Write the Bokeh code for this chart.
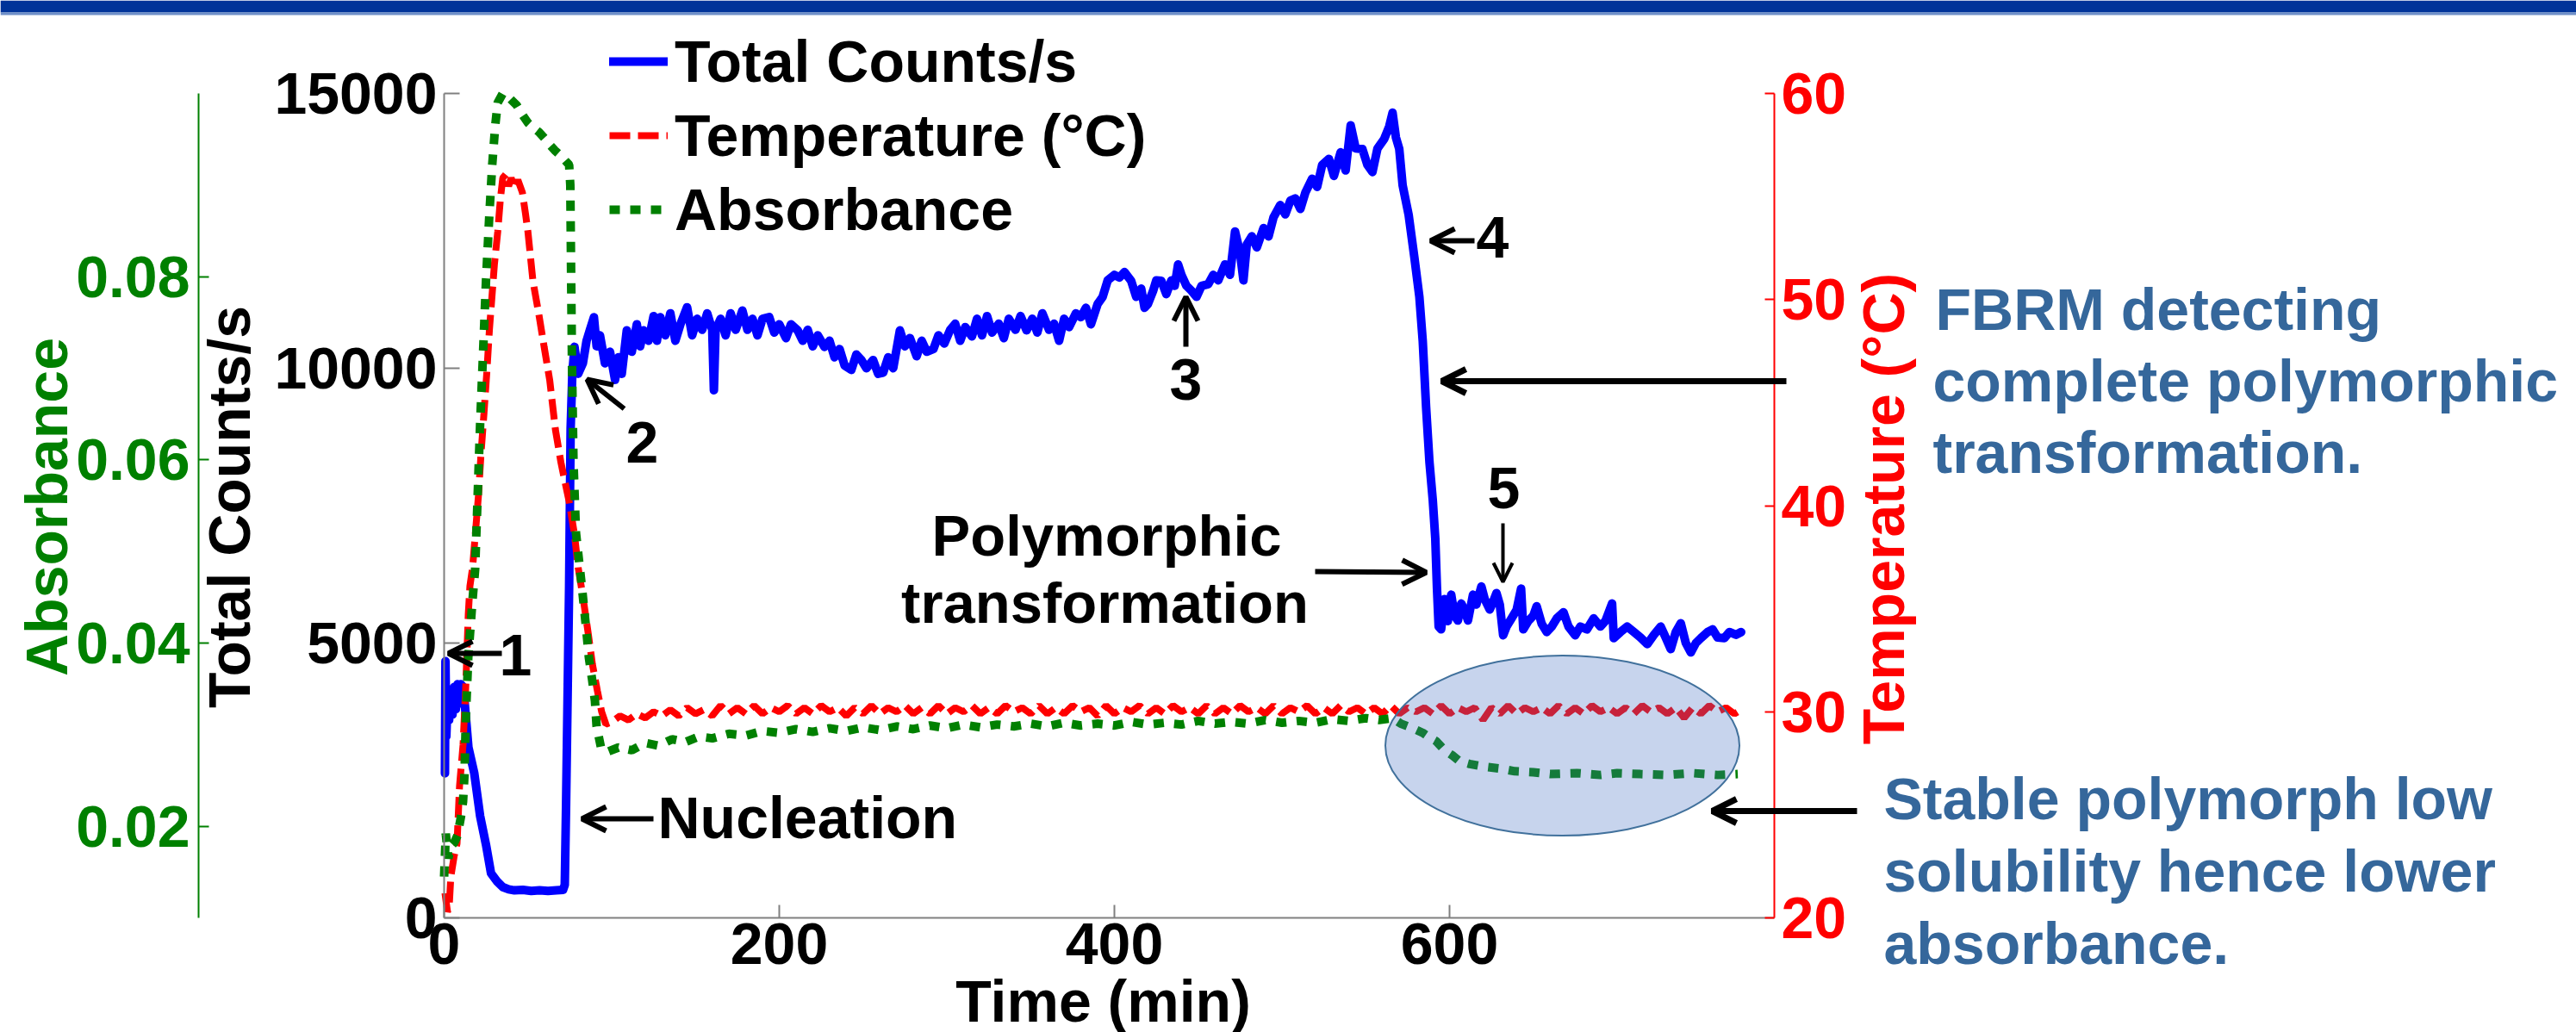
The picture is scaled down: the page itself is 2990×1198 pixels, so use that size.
import math
from bokeh.plotting import figure
from bokeh.models import (Range1d, LinearAxis, FixedTicker, Label, Arrow, OpenHead,
                          Legend, LegendItem, BoxAnnotation)
from bokeh.embed import file_html
from bokeh.resources import INLINE

# ---------------- data ----------------
TIME_TICKS = [0, 200, 400, 600]
COUNT_TICKS = [0, 5000, 10000, 15000]
TEMP_TICKS = [20, 30, 40, 50, 60]
ABS_TICKS = [0.02, 0.04, 0.06, 0.08]

# (time [min], total counts/s)
COUNTS = [
    (0.5, 2630), (0.8, 4670), (1.3, 3300), (2, 3900), (3, 3600), (4, 4150), (5, 3700),
    (6, 4200), (7, 3800), (8, 4250), (9, 3900), (10, 4250), (11.5, 4200), (14.5, 3100),
    (18, 2630), (21.5, 1850), (25, 1330), (28, 810), (31.7, 660), (35, 560), (38.5, 520),
    (42, 500), (47, 510), (52, 490), (57, 500), (62, 490), (67, 500), (71, 510), (72, 600),
    (72.8, 2100), (74.6, 6030), (75.5, 8900), (76.5, 9900), (77.8, 10390), (80, 9900),
    (82.8, 10090), (85, 10500), (87, 10700), (89.4, 10930), (91, 10400), (93, 10600),
    (96, 10090), (99, 10300), (102, 9790), (104, 10200), (106, 9900), (109, 10690),
    (112, 10300), (115, 10800), (117, 10400), (119, 10690), (122, 10500), (125, 10950),
    (127, 10500), (129, 10930), (132, 10600), (135, 11000), (138, 10500), (141, 10800),
    (145, 11110), (148, 10600), (151, 10900), (154, 10700), (157, 11000), (160, 10700),
    (161, 9600), (162, 10700), (165, 10900), (168, 10600), (171, 11000), (174, 10700),
    (178, 11050), (181, 10700), (184, 10900), (187, 10600), (190, 10900), (194, 10930),
    (197, 10650), (200, 10800), (204, 10550), (207, 10800), (211, 10690), (214, 10500),
    (217, 10700), (220, 10400), (223, 10600), (227, 10390), (230, 10500), (233, 10200),
    (236, 10350), (239, 10050), (243, 9970), (246, 10250), (249, 10150), (252, 10000),
    (256, 10150), (259, 9900), (262, 9920), (265, 10200), (268, 10000), (272, 10690),
    (275, 10400), (278, 10550), (282, 10220), (285, 10500), (288, 10300), (292, 10350),
    (295, 10600), (298.5, 10450), (302, 10700), (305, 10810), (308, 10500), (311, 10750),
    (315, 10580), (318, 10900), (321, 10600), (324, 10950), (327, 10650), (331, 10810),
    (334, 10550), (337, 10900), (341, 10700), (344, 10950), (347.6, 10690), (351, 10900),
    (354, 10650), (357, 11000), (361, 10700), (364, 10810), (367, 10500), (370, 10900),
    (373, 10750), (377, 11000), (380, 10930), (383, 11100), (386, 10800), (390, 11170),
    (393, 11300), (396, 11600), (400, 11700), (403, 11650), (406, 11750), (410, 11590),
    (413, 11300), (416, 11450), (418, 11100), (420, 11170), (423, 11400), (425, 11600),
    (428, 11590), (431, 11350), (434, 11600), (436, 11500), (438, 11890), (440, 11700),
    (443, 11500), (446, 11410), (449, 11300), (452, 11500), (456, 11530), (459, 11700),
    (462, 11600), (466, 11890), (469, 11700), (472, 12490), (475, 12100), (477, 11600),
    (479, 12250), (482, 12400), (485, 12200), (489, 12550), (492, 12400), (495, 12750),
    (499, 12970), (502, 12800), (505, 13050), (508, 13090), (511, 12900), (514, 13200),
    (518, 13450), (521, 13300), (524, 13700), (528, 13810), (531, 13500), (535, 13930),
    (538, 13600), (541, 14420), (544, 14000), (548, 13990), (551, 13700), (554, 13570),
    (557, 14000), (561, 14170), (564, 14400), (566, 14650), (568, 14200), (570, 13990),
    (572, 13330), (575.6, 12790), (579, 12020), (582, 11300), (584, 10500), (586, 9300),
    (588, 8300), (590, 7600), (591.5, 6900), (592.5, 6000), (593.5, 5300), (595, 5250),
    (597, 5800), (599, 5400), (601, 5880), (603, 5500), (605, 5410), (607, 5720),
    (609, 5600), (611, 5410), (614, 5880), (616, 5700), (619, 6030), (621, 5800),
    (624, 5610), (626, 5750), (628, 5910), (630, 5700), (632, 5140), (634, 5300),
    (637, 5450), (640, 5600), (642.7, 5990), (644, 5250), (647, 5400), (650, 5500),
    (652, 5670), (655, 5350), (658, 5200), (661, 5300), (664, 5450), (668, 5560),
    (671, 5300), (675, 5140), (678, 5300), (682, 5250), (686, 5450), (690, 5300),
    (693, 5400), (697, 5720), (698, 5090), (702, 5200), (706, 5300), (710, 5200),
    (714, 5100), (718, 4980), (722, 5150), (726, 5300), (729, 5100), (732, 4890),
    (735, 5200), (738, 5360), (741, 5000), (744, 4830), (747, 5000), (750, 5090),
    (754, 5200), (757, 5250), (760, 5100), (764, 5090), (767, 5200), (771, 5150),
    (774, 5200),
]

# (time [min], temperature [degC])
TEMPERATURE = [
    (0.5, 21.2), (2, 20.3), (3, 20.5), (4, 22.0), (6, 23.0), (7.7, 23.6), (9.2, 26.4),
    (11.3, 28.4), (12.9, 31.2), (14.4, 34.7), (15.4, 36.1), (17, 37.0), (18.5, 38.5),
    (20.5, 40.5), (22, 42.5), (23.8, 44.5), (25.5, 46.5), (27, 48.5), (30, 51.7),
    (32, 53.3), (33.6, 54.9), (35, 55.9), (37, 56.1), (38.5, 55.5), (40, 55.9),
    (42, 55.4), (44, 55.8), (46.7, 55.2), (48.5, 54.2), (50, 53.3), (53, 50.9),
    (56.5, 49.3), (59.7, 47.7), (63, 46.1), (66.4, 43.7), (69.7, 42.1), (72, 41.2),
    (74.6, 40.2), (77.8, 38.6), (80, 37.0), (82.8, 35.6), (86, 33.8), (88.5, 32.3),
    (91.5, 31.0), (94, 30.0), (96.5, 29.4),
    (100, 29.5), (105, 29.8), (110, 29.6), (115, 29.9), (120, 29.7), (125, 30.0),
    (130, 29.8), (135, 30.1), (140, 29.8), (145, 30.2), (150, 29.9), (155, 30.1),
    (160, 29.8), (165, 30.3), (170, 29.9), (175, 30.2), (180, 29.9), (185, 30.3),
    (190, 29.9), (195, 30.2), (200, 30.0), (205, 30.3), (210, 29.9), (215, 30.2),
    (220, 29.9), (225, 30.3), (230, 30.0), (235, 30.2), (240, 29.8), (245, 30.2),
    (250, 29.9), (255, 30.3), (260, 29.9), (265, 30.2), (270, 30.0), (275, 30.3),
    (280, 29.9), (285, 30.2), (290, 29.9), (295, 30.3), (300, 29.9), (305, 30.2),
    (310, 30.0), (315, 30.3), (320, 29.9), (325, 30.2), (330, 29.9), (335, 30.3),
    (340, 30.0), (345, 30.2), (350, 29.9), (355, 30.3), (360, 29.9), (365, 30.2),
    (370, 29.9), (375, 30.3), (380, 30.0), (385, 30.2), (390, 29.8), (395, 30.3),
    (400, 29.9), (405, 30.2), (410, 30.0), (415, 30.3), (420, 29.9), (425, 30.2),
    (430, 29.9), (435, 30.3), (440, 30.0), (445, 30.2), (450, 29.9), (455, 30.3),
    (460, 29.9), (465, 30.2), (470, 29.9), (475, 30.3), (480, 30.0), (485, 30.2),
    (490, 29.9), (495, 30.3), (500, 29.9), (505, 30.2), (510, 30.0), (515, 30.3),
    (520, 29.9), (525, 30.2), (530, 29.9), (535, 30.3), (540, 30.0), (545, 30.2),
    (550, 29.9), (555, 30.2), (560, 29.9), (565, 30.3), (570, 29.9), (575, 30.2),
    (580, 30.0), (585, 30.2), (590, 29.9), (595, 30.3), (600, 29.9), (605, 30.2),
    (610, 30.0), (615, 30.2), (620, 29.6), (625, 30.2), (630, 29.9), (635, 30.3),
    (640, 29.9), (645, 30.2), (650, 30.0), (655, 30.2), (660, 29.9), (665, 30.3),
    (670, 29.9), (675, 30.2), (680, 29.9), (685, 30.3), (690, 30.0), (695, 30.2),
    (700, 29.9), (705, 30.2), (710, 29.9), (715, 30.3), (720, 30.0), (725, 30.2),
    (730, 29.9), (735, 30.2), (740, 29.7), (745, 30.2), (750, 29.9), (755, 30.3),
    (760, 30.0), (765, 30.2), (770, 29.9), (774, 30.1),
]

# (time [min], absorbance)
ABSORBANCE = [
    (0, 0.0145), (1, 0.0192), (2.5, 0.0165), (4, 0.0178), (6, 0.0182), (8, 0.0190),
    (10, 0.0210), (11.3, 0.0227), (12.2, 0.0258), (13, 0.0321), (14.4, 0.0384),
    (16.9, 0.0446), (18.5, 0.0480), (20, 0.0560), (21.5, 0.0640), (23, 0.0706),
    (25, 0.0796), (27, 0.0868), (28.7, 0.0922), (30.5, 0.0965), (32, 0.0990),
    (35, 0.1000), (39, 0.0995), (43.4, 0.0987), (47, 0.0976), (50, 0.0968),
    (53, 0.0963), (56.5, 0.0958), (60, 0.0951), (63, 0.0944), (66, 0.0938),
    (69.7, 0.0932), (74.6, 0.0922), (75.3, 0.0900), (75.8, 0.0800), (76.3, 0.0706),
    (77.2, 0.0598), (78.7, 0.0520), (82.3, 0.0460), (84.8, 0.0415), (86.4, 0.0384),
    (88.4, 0.0359), (90, 0.0337), (91, 0.0309), (93.6, 0.0286), (97, 0.0281),
    (104, 0.0286), (112, 0.0283), (120, 0.0291), (128, 0.0288), (136, 0.0295),
    (144, 0.0292), (152, 0.0298), (160, 0.0296), (170, 0.0301), (180, 0.0299),
    (190, 0.0304), (200, 0.0302), (210, 0.0306), (220, 0.0303), (230, 0.0307),
    (240, 0.0304), (250, 0.0308), (260, 0.0305), (270, 0.0309), (280, 0.0306),
    (290, 0.0310), (300, 0.0307), (310, 0.0311), (320, 0.0308), (330, 0.0311),
    (340, 0.0309), (350, 0.0312), (360, 0.0309), (370, 0.0313), (380, 0.0310),
    (390, 0.0312), (400, 0.0310), (410, 0.0314), (420, 0.0311), (430, 0.0313),
    (440, 0.0311), (450, 0.0315), (460, 0.0312), (470, 0.0314), (480, 0.0312),
    (490, 0.0316), (500, 0.0313), (510, 0.0315), (520, 0.0313), (530, 0.0317),
    (540, 0.0315), (550, 0.0318), (558, 0.0316), (566, 0.0318), (571, 0.0312),
    (578, 0.0307), (584, 0.0302), (588, 0.0297), (592, 0.0293), (597, 0.0283),
    (602, 0.0277), (606, 0.0271), (612, 0.0268), (621, 0.0265), (630, 0.0263),
    (639, 0.0260), (650, 0.0259), (660, 0.0257), (676, 0.0258), (690, 0.0256),
    (700, 0.0258), (714, 0.0257), (730, 0.0256), (745, 0.0258), (760, 0.0256),
    (772, 0.0257),
]

# ---------------- layout (pixel geometry of the page) ----------------
W, H = 2990, 1198
LEFT_PX, RIGHT_PX = 515, 2059      # time = 0 and the temperature axis
TOP_PX, BOTTOM_PX = 108, 1065      # top / bottom of the y axes
PX_PER_MIN = 389 / 200
BASELINE_FIX = 27                  # correction for the alphabetic baseline of labels
FONT = "Liberation Sans"
BLUE, RED, GREEN = "#0000FF", "#FF0000", "#008000"
NOTE_BLUE = "#35679B"

SPAN = BOTTOM_PX - TOP_PX


def X(px):
    return (px - LEFT_PX) / PX_PER_MIN


def Y(py):
    return (BOTTOM_PX - py) * 15000 / SPAN


def TY(py):
    return 20 + (BOTTOM_PX - py) * 40 / SPAN


def AY(py):
    return 0.01 + (BOTTOM_PX - py) * 0.09 / SPAN


p = figure(width=W, height=H, x_range=Range1d(X(0), X(W)), y_range=Range1d(Y(H), Y(0)),
           output_backend="svg", toolbar_location=None,
           x_axis_location=None, y_axis_location=None, min_border=0,
           outline_line_color=None, background_fill_color="white",
           border_fill_color="white")
p.xgrid.visible = False
p.ygrid.visible = False
p.extra_y_ranges = {"temp": Range1d(TY(H), TY(0)), "abs": Range1d(AY(H), AY(0))}

# header bar of the slide
p.add_layout(BoxAnnotation(bottom=Y(14), fill_color="#003399", fill_alpha=1.0,
                           line_color=None, level="underlay"))
p.add_layout(BoxAnnotation(bottom=Y(17), top=Y(14), fill_color="#6f8fc8", fill_alpha=1.0,
                           line_color=None, level="underlay"))


def style_axis(ax, label_color, line_color, tick_in, standoff):
    ax.major_label_text_font = FONT
    ax.major_label_text_font_style = "bold"
    ax.major_label_text_font_size = "68px"
    ax.major_label_text_color = label_color
    ax.axis_line_color = line_color
    ax.axis_line_width = 2
    ax.major_tick_line_color = line_color
    ax.major_tick_line_width = 2
    ax.minor_tick_line_color = None
    ax.major_tick_out = 0
    ax.major_tick_in = tick_in
    ax.major_label_standoff = standoff


counts_axis = LinearAxis(fixed_location=0, bounds=(0, 15000),
                         ticker=FixedTicker(ticks=COUNT_TICKS))
style_axis(counts_axis, "black", "#808080", 18, 8)
p.add_layout(counts_axis, "left")

abs_axis = LinearAxis(y_range_name="abs", fixed_location=X(230), bounds=(0.01, 0.1),
                      ticker=FixedTicker(ticks=ABS_TICKS))
style_axis(abs_axis, GREEN, GREEN, 12, 10)
p.add_layout(abs_axis, "left")

temp_axis = LinearAxis(y_range_name="temp", fixed_location=X(RIGHT_PX), bounds=(20, 60),
                       ticker=FixedTicker(ticks=TEMP_TICKS))
style_axis(temp_axis, RED, RED, 11, 8)
p.add_layout(temp_axis, "right")

x_axis = LinearAxis(fixed_location=0, bounds=(0, X(RIGHT_PX)),
                    ticker=FixedTicker(ticks=TIME_TICKS))
style_axis(x_axis, "black", "#808080", 15, 6)
p.add_layout(x_axis, "below")

# ---------------- series ----------------
ct, cv = zip(*COUNTS)
tt, tv = zip(*TEMPERATURE)
at, av = zip(*ABSORBANCE)

r_counts = p.line(list(ct), list(cv), line_color=BLUE, line_width=10,
                  line_join="round", line_cap="round")
r_temp = p.line(list(tt), list(tv), y_range_name="temp", line_color=RED, line_width=8,
                line_dash="24 9")
r_abs = p.line(list(at), list(av), y_range_name="abs", line_color=GREEN, line_width=10,
               line_dash="12 12")

# highlighted region (semi-transparent ellipse)
p.ellipse(x=[X(1813)], y=[Y(865)], width=411, height=209, width_units="screen",
          height_units="screen", fill_color="#4472C4", fill_alpha=0.3,
          line_color="#41719C", line_width=2)

legend = Legend(items=[LegendItem(label="Total Counts/s", renderers=[r_counts]),
                       LegendItem(label="Temperature (\u00b0C)", renderers=[r_temp]),
                       LegendItem(label="Absorbance", renderers=[r_abs])],
                location=(707, H - 283), orientation="vertical",
                label_text_font=FONT, label_text_font_style="bold",
                label_text_font_size="68px", label_text_color="black",
                glyph_width=68, glyph_height=80,
                label_height=80, label_standoff=8, spacing=6, padding=0, margin=0,
                border_line_color=None, background_fill_alpha=0)
p.add_layout(legend)


def label(text, px, py, size=68, color="black", align="left", baseline="alphabetic",
          angle=0.0):
    if baseline == "alphabetic":
        py -= BASELINE_FIX
    p.add_layout(Label(x=X(px), y=Y(py), text=text, text_font=FONT,
                       text_font_style="bold", text_font_size=f"{size}px",
                       text_color=color, text_align=align, text_baseline=baseline,
                       angle=angle))


def arrow(px0, py0, px1, py1, width=6, head=28):
    p.add_layout(Arrow(end=OpenHead(size=head, line_width=width, line_color="black"),
                       x_start=X(px0), y_start=Y(py0), x_end=X(px1), y_end=Y(py1),
                       line_width=width, line_color="black"))


# axis titles
label("Absorbance", 53, 588, color=GREEN, align="center", baseline="middle",
      angle=math.pi / 2)
label("Total Counts/s", 265, 588, align="center", baseline="middle", angle=math.pi / 2)
label("Temperature (\u00b0C)", 2185, 590, color=RED, align="center", baseline="middle",
      angle=math.pi / 2)
label("Time (min)", 1280, 1188, align="center")

# numbered markers
arrow(582, 758, 520, 758)
label("1", 598, 787, align="center")
arrow(724, 474, 681, 440)
label("2", 745, 540, align="center")
arrow(1376, 402, 1376, 344)
label("3", 1376, 467, align="center")
arrow(1711, 279, 1660, 279)
label("4", 1732, 302, align="center")
arrow(1744, 607, 1744, 675, width=4, head=22)
label("5", 1745, 593, align="center")

arrow(758, 950, 675, 950)
label("Nucleation", 763, 975)

arrow(1526, 663, 1655, 664)
label("Polymorphic", 1284, 648, size=67, align="center")
label("transformation", 1282, 726, size=67, align="center")

arrow(2073, 442, 1673, 442, width=7)
label("FBRM detecting", 2246, 385, color=NOTE_BLUE)
label("complete polymorphic", 2243, 468, color=NOTE_BLUE)
label("transformation.", 2243, 551, color=NOTE_BLUE)

arrow(2155, 941, 1987, 941, width=7)
label("Stable polymorph low", 2186, 953, color=NOTE_BLUE)
label("solubility hence lower", 2186, 1037, color=NOTE_BLUE)
label("absorbance.", 2186, 1121, color=NOTE_BLUE)

with open("out.html", "w", encoding="utf-8") as f:
    f.write(file_html(p, INLINE))
